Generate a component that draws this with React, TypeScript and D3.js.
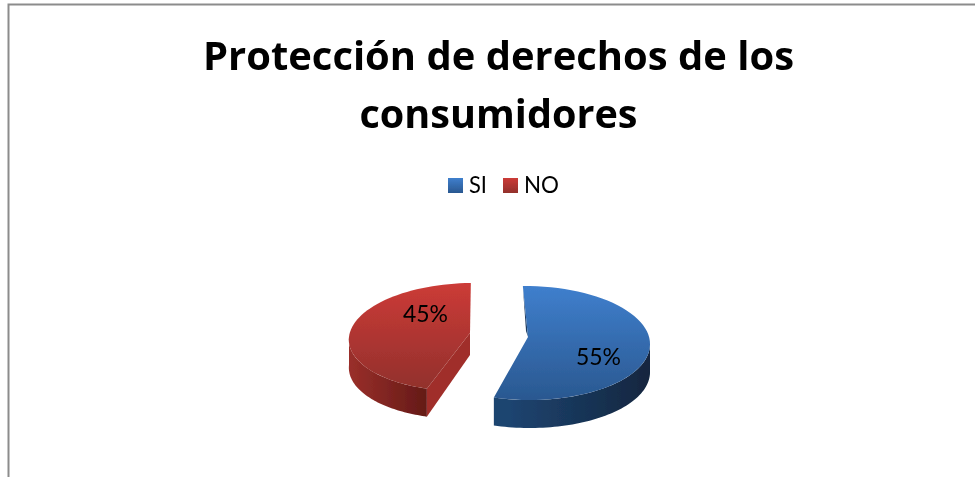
import React from "react";
import * as d3 from "d3";

const categories = ["SI", "NO"];
const values = [55, 45];
const labels = ["55%", "45%"];
const titleLines = ["Protección de derechos de los", "consumidores"];
const topColors = [["#3f7fcd", "#2a5890"], ["#cc3b37", "#92302c"]];
const sideColors = [["#1e4470", "#12263f"], ["#9a2f2a", "#641a17"]];
const cutColors = ["#1b3a60", "#a02e29"];

const W = 975, H = 477;
const ROT = (-1 * Math.PI) / 180;
const slices = [
  { cx: 527.4, cy: 343, rx: 122.6, ry: 57, shear: -2.4, depth: 28, ax: 528, ay: 337 },
  { cx: 467, cy: 337, rx: 118, ry: 54, shear: 5.9, depth: 28, ax: 470, ay: 333 },
];
const labelPos = [[598.5, 365], [425.5, 322]];
const titleWidths = [591, 278];
const legendWidths = [18, 35];

const pieGen = d3.pie<number>().sort(null).startAngle(ROT).endAngle(2 * Math.PI + ROT);
const arcs = pieGen(values);
const line = d3.line();

function pt(i: number, a: number, dy = 0): [number, number] {
  const s = slices[i];
  return [s.cx + s.rx * Math.sin(a) + s.shear * Math.cos(a), s.cy - s.ry * Math.cos(a) + dy];
}
function sample(i: number, a0: number, a1: number, dy = 0) {
  return d3.range(0, 61).map((k) => pt(i, a0 + ((a1 - a0) * k) / 60, dy));
}

export default function App() {
  return (
    <svg width={W} height={H} style={{ position: "absolute", left: 0, top: 0, background: "#fff" }}>
      <defs>
        {categories.map((c, i) => (
          <React.Fragment key={c}>
            <linearGradient id={`top${i}`} x1="0" y1="0" x2="0" y2="1">
              <stop offset="0" stopColor={topColors[i][0]} />
              <stop offset="1" stopColor={topColors[i][1]} />
            </linearGradient>
            <linearGradient id={`side${i}`} x1={i === 0 ? 1 : 0} y1="0" x2={i === 0 ? 0.1 : 1} y2="0">
              <stop offset="0" stopColor={i === 0 ? sideColors[0][1] : sideColors[1][0]} />
              <stop offset="1" stopColor={i === 0 ? sideColors[0][0] : sideColors[1][1]} />
            </linearGradient>
          </React.Fragment>
        ))}
        <filter id="soft"><feGaussianBlur stdDeviation="0.6" /></filter>
        <filter id="softText"><feGaussianBlur stdDeviation="0.35" /></filter>
      </defs>

      <path d={`M8.5 ${H}V4.5H${W}`} fill="none" stroke="#8c8c8c" strokeWidth={2} />

      <g fontFamily="'Open Sans', sans-serif" fill="#000" filter="url(#softText)">
        {titleLines.map((t, i) => (
          <text key={t} x={498.5} y={70 + i * 58} textAnchor="middle" fontSize={39} fontWeight={700}
            textLength={titleWidths[i]} lengthAdjust="spacingAndGlyphs">{t}</text>
        ))}
      </g>

      <g fontFamily="Lato, sans-serif" fontSize={23} fill="#000" filter="url(#softText)">
        {categories.map((c, i) => {
          const sx = [448, 503][i], tx = [469, 524][i];
          return (
            <g key={c}>
              <rect x={sx} y={178} width={15} height={15} fill={`url(#top${i})`} />
              <text x={tx} y={193} textLength={legendWidths[i]} lengthAdjust="spacingAndGlyphs">{c}</text>
            </g>
          );
        })}
      </g>

      <g filter="url(#soft)">
        {arcs.map((d, i) => {
          const a0 = d.startAngle, a1 = d.endAngle;
          const s = slices[i];
          const top = sample(i, a0, a1);
          const vis0 = Math.max(a0, Math.PI / 2), vis1 = Math.min(a1, (3 * Math.PI) / 2);
          const wallTop = sample(i, vis0, vis1);
          const wallBottom = sample(i, vis0, vis1, s.depth).reverse();
          const ap: [number, number] = [s.ax, s.ay];
          const cutEnd = pt(i, a0);
          return (
            <g key={categories[i]}>
              {i === 1 && (
                <path
                  d={line([ap, [ap[0], ap[1] + 22], [cutEnd[0], cutEnd[1] + s.depth], cutEnd])! + "Z"}
                  fill={cutColors[1]}
                />
              )}
              {i === 0 && (
                <path
                  d={line([cutEnd, [ap[0] - 2, ap[1] - 6], ap])! + "Z"}
                  fill={cutColors[0]}
                />
              )}
              <path d={line([...wallTop, ...wallBottom])! + "Z"} fill={`url(#side${i})`} />
              <path d={line([...top, ap])! + "Z"} fill={`url(#top${i})`} />
            </g>
          );
        })}
      </g>

      <g fontFamily="Lato, sans-serif" fontSize={24} fill="#000" textAnchor="middle" filter="url(#softText)">
        {labels.map((l, i) => (
          <text key={l} x={labelPos[i][0]} y={labelPos[i][1]} textLength={45} lengthAdjust="spacingAndGlyphs">{l}</text>
        ))}
      </g>
    </svg>
  );
}
